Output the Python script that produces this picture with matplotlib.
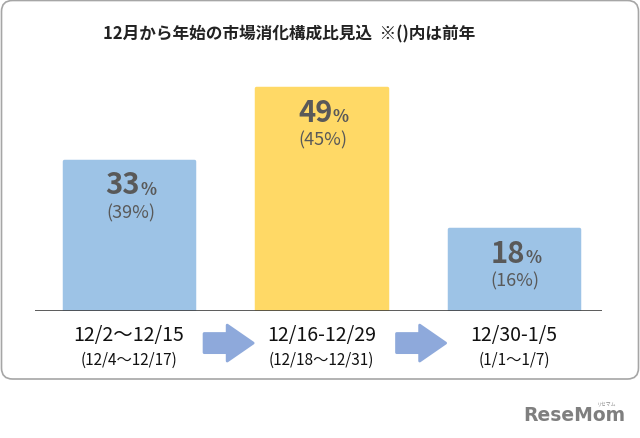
import matplotlib
matplotlib.use("Agg")
import matplotlib.pyplot as plt
from matplotlib.patches import FancyArrow, FancyBboxPatch

plt.rcParams['font.family'] = ['Noto Sans CJK JP', 'DejaVu Sans']

# data
periods = ['12/2～12/15', '12/16-12/29', '12/30-1/5']
prev_periods = ['(12/4～12/17)', '(12/18～12/31)', '(1/1～1/7)']
share = [33, 49, 18]
prev_share = [39, 45, 16]
bar_colors = ['#9DC3E6', '#FFD966', '#9DC3E6']
title = '12月から年始の市場消化構成比見込  ※()内は前年'

fig = plt.figure(figsize=(6.4, 4.39), dpi=100)

# background layer in pixel coords: rounded frame + logo
bg = fig.add_axes([0, 0, 1, 1], zorder=0)
bg.set_xlim(0, 640)
bg.set_ylim(439, 0)
bg.axis('off')
frame = FancyBboxPatch((1.5, 1.5), 637, 378.5,
                       boxstyle='round,pad=0,rounding_size=11',
                       facecolor='white', edgecolor='#A6A6A6', linewidth=1.2)
bg.add_patch(frame)
bg.text(574, 416, 'ReseMom', fontsize=13.5, fontweight='bold', color='#7F7F7F',
        ha='center', va='center', family=['DejaVu Sans'])
bg.text(607, 404, 'リセマム', fontsize=3.5, color='#8C8C8C', ha='center', va='center')
bg.text(289, 34.5, title, fontsize=12, fontweight='bold', color='#222222',
        ha='center', va='center')

# bar chart axes
px_w, px_h = 640.0, 439.0
ax_left, ax_right = 34.7, 602.5
ax_bottom = 439 - 312
unit = 4.55
ymax = 60
ax = fig.add_axes([ax_left / px_w, ax_bottom / px_h,
                   (ax_right - ax_left) / px_w, ymax * unit / px_h], zorder=1)
ax.patch.set_alpha(0)
ax.set_xlim(-0.49, 2.46)
ax.set_ylim(0, ymax)
ax.axis('off')

x = range(len(share))
ax.bar(x, share, width=0.68, color=bar_colors, edgecolor=bar_colors,
       linewidth=2.5, joinstyle='round')
ax.axhline(0, color='#404040', linewidth=1.2, zorder=3)

for i, (v, pv) in enumerate(zip(share, prev_share)):
    ax.annotate(str(v), xy=(i, v), xytext=(8, -17), textcoords='offset points',
                ha='right', va='center', fontsize=21, fontweight='bold',
                color='#595959')
    ax.annotate('%', xy=(i, v), xytext=(8, -20), textcoords='offset points',
                ha='left', va='center', fontsize=12, fontweight='bold',
                color='#595959')
    ax.annotate('(%d%%)' % pv, xy=(i, v), xytext=(1, -37), textcoords='offset points',
                ha='center', va='center', fontsize=13, color='#595959')
    ax.annotate(periods[i], xy=(i, 0), xytext=(0, -17), textcoords='offset points',
                ha='center', va='center', fontsize=14, color='#111111',
                annotation_clip=False)
    ax.annotate(prev_periods[i], xy=(i, 0), xytext=(0, -35), textcoords='offset points',
                ha='center', va='center', fontsize=11, color='#111111',
                annotation_clip=False)

# arrows between periods
for i in range(len(share) - 1):
    arr = FancyArrow(i + 0.39, -7.05, 0.255, 0, width=4.2, head_width=7.9,
                     head_length=0.135, length_includes_head=True,
                     facecolor='#8EA9DB', edgecolor='#8EA9DB', linewidth=2,
                     joinstyle='round', clip_on=False)
    ax.add_patch(arr)

fig.savefig('out.png', dpi=100)
